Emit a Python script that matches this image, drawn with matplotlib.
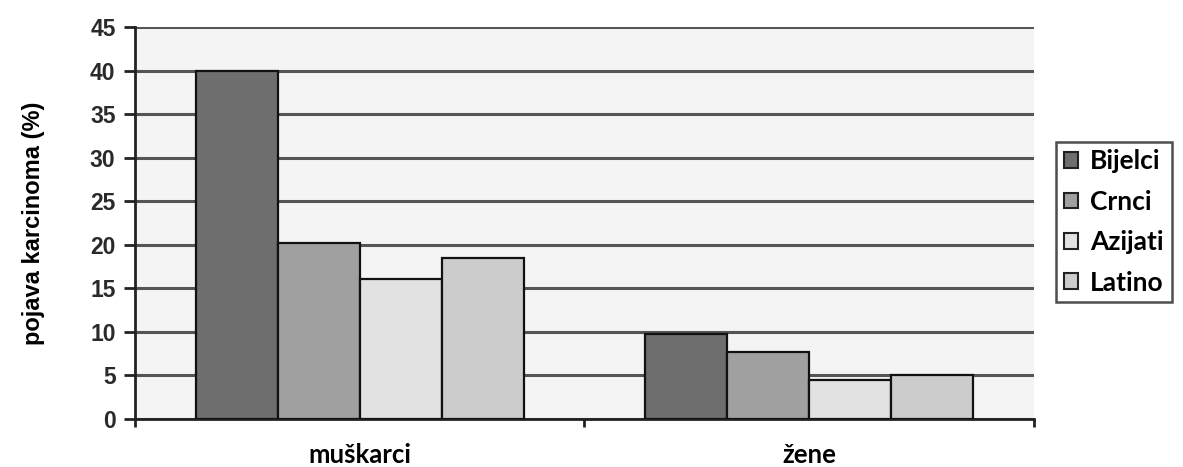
import numpy as np
from matplotlib import pyplot as plt
from matplotlib.patches import Patch

groups = ['muškarci', 'žene']
series = ['Bijelci', 'Crnci', 'Azijati', 'Latino']
bijelci = [40.0, 9.8]
crnci = [20.2, 7.7]
azijati = [16.1, 4.5]
latino = [18.5, 5.0]
colors = ['#6e6e6e', '#a0a0a0', '#e2e2e2', '#cccccc']
yticks = [0, 5, 10, 15, 20, 25, 30, 35, 40, 45]

values = [bijelci, crnci, azijati, latino]

fig = plt.figure(figsize=(11.83, 4.67), dpi=100)
ax = fig.add_axes([0.1141, 0.1028, 0.874 - 0.1141, 0.942 - 0.1028])
ax.set_facecolor('#f4f4f4')

x = np.arange(len(groups))
width = 0.1825
for i, (name, vals) in enumerate(zip(series, values)):
    offset = (i - 1.5) * width
    ax.bar(x + offset, vals, width, color=colors[i], edgecolor='#111111',
           linewidth=1.6, zorder=3, label=name)

ax.set_xlim(-0.5, 1.5)
ax.set_ylim(0, 45)
ax.set_yticks(yticks)
ax.set_yticklabels([str(t) for t in yticks], fontsize=16.5, fontweight='bold',
                   family='Liberation Sans', color='#2a2a2a')
ax.yaxis.grid(True, color='#555555', linewidth=2.2, zorder=1)
ax.set_axisbelow(True)

# group boundaries as ticks, names centred under each group
ax.set_xticks([-0.5, 0.5, 1.5])
ax.set_xticklabels(['', '', ''])
ax.set_xticks(x, minor=True)
ax.set_xticklabels(groups, minor=True, fontsize=18.5, fontweight='bold',
                   family='Lato')
ax.tick_params(axis='x', which='minor', length=0, pad=17)
ax.tick_params(axis='x', which='major', length=6, width=2, color='#222222')
ax.tick_params(axis='y', length=8, width=2, color='#222222', pad=6)

for s in ['top', 'right']:
    ax.spines[s].set_visible(False)
for s in ['left', 'bottom']:
    ax.spines[s].set_linewidth(2)
    ax.spines[s].set_color('#222222')

ax.set_ylabel('pojava karcinoma (%)', fontsize=17, fontweight='bold',
              family='Liberation Sans')
ax.yaxis.set_label_coords(-0.1, 0.5)

handles = [Patch(facecolor=c, edgecolor='#222222', linewidth=1.5) for c in colors]
leg = fig.legend(handles, series, loc='center left',
                 bbox_to_anchor=(1056 / 1183, 1 - 222 / 467),
                 prop={'family': 'Lato', 'weight': 'bold', 'size': 19},
                 frameon=True, fancybox=False, edgecolor='#222222',
                 handlelength=0.55, handleheight=0.55, handletextpad=0.45,
                 labelspacing=0.62, borderpad=0.3, borderaxespad=0)
leg.get_frame().set_linewidth(1.8)

fig.savefig('out.png', dpi=100)
